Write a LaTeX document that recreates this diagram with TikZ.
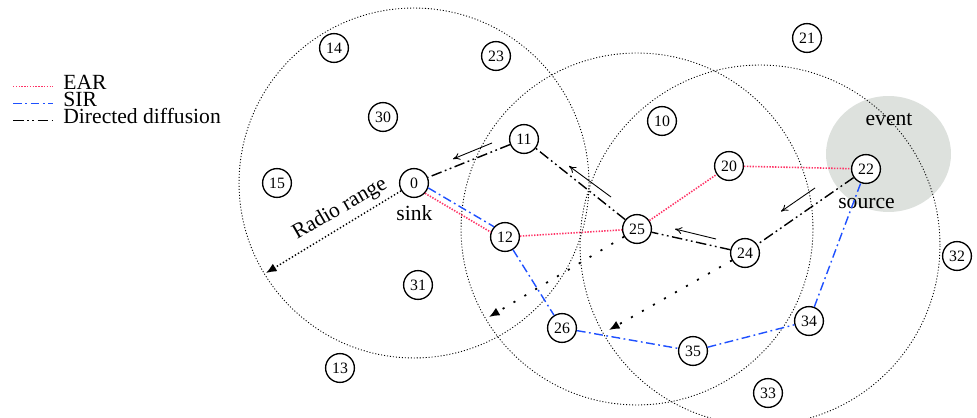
\documentclass[tikz,border=0pt]{standalone}
\usepackage{fontspec}
\setmainfont{Liberation Serif}
\usetikzlibrary{arrows.meta,shapes.geometric}
\definecolor{earc}{RGB}{255,51,102}
\definecolor{sirc}{RGB}{30,80,255}
\definecolor{evc}{RGB}{221,225,221}
\begin{document}
\begin{tikzpicture}[x=0.02cm,y=-0.02cm,
 nd/.style={circle,draw,line width=0.75pt,fill=white,minimum size=16.4pt,inner sep=0pt,font=\fontsize{9}{10}\selectfont},
 lbl/.style={font=\fontsize{12.3}{14}\selectfont,inner sep=0pt},
 rangec/.style={line width=0.5pt,dash pattern=on 0.6pt off 1.1pt},
 ear/.style={earc,line width=0.9pt,dash pattern=on 0.8pt off 0.8pt},
 sir/.style={sirc,line width=0.8pt,dash pattern=on 5pt off 2pt on 1pt off 2pt},
 dd/.style={black,line width=0.8pt,dash pattern=on 6pt off 2pt on 1pt off 2pt on 1pt off 2pt},
 flow/.style={line width=0.5pt,-{To[length=4pt,width=4pt]}},
 rangearrow/.style={line width=0.8pt,dash pattern=on 0.8pt off 1.2pt,-{Latex[length=6pt,width=5pt]}},
 sparse/.style={line width=1pt,dash pattern=on 1.2pt off 6pt,-{Latex[length=6pt,width=5pt]}}]
\useasboundingbox (0,0) rectangle (977,418);
% event area
\fill[evc] (888.5,154) ellipse [x radius=1.25cm, y radius=1.16cm];
% radio ranges
\coordinate (c1) at (414,183);
\coordinate (c2) at (637,229);
\coordinate (c3) at (760,245);
\draw[rangec] (c1) circle [radius=3.5cm];
\draw[rangec] (c2) circle [radius=3.52cm];
\draw[rangec] (c3) circle [radius=3.6cm];
% nodes
\node[nd] (n0) at (414,183) {0};
\node[nd] (n11) at (524,139) {11};
\node[nd] (n12) at (505,237) {12};
\node[nd] (n15) at (277,183) {15};
\node[nd] (n30) at (383,117) {30};
\node[nd] (n31) at (418,285) {31};
\node[nd] (n14) at (334,48) {14};
\node[nd] (n23) at (496,56) {23};
\node[nd] (n10) at (662,121) {10};
\node[nd] (n21) at (807,38) {21};
\node[nd] (n20) at (729,166) {20};
\node[nd] (n25) at (637,229) {25};
\node[nd] (n24) at (745,253) {24};
\node[nd] (n22) at (866,169) {22};
\node[nd] (n32) at (957,256) {32};
\node[nd] (n26) at (562,328) {26};
\node[nd] (n35) at (693,351) {35};
\node[nd] (n34) at (809,321) {34};
\node[nd] (n33) at (768,393) {33};
\node[nd] (n13) at (340,368) {13};
% labels
\node[lbl,anchor=base] (sink) at (414.5,221) {sink};
\node[lbl,anchor=base] (source) at (866.5,209) {source};
\node[lbl,anchor=base] (event) at (889,125.5) {event};
\node[lbl,rotate=30] (rr) at (340,209) {Radio range};
% EAR
\draw[ear] (n0.-43) -- (n12.161);
\draw[ear] (n12) -- (n25);
\draw[ear] (n25) -- (n20);
\draw[ear] (n20) -- (n22);
% SIR
\draw[sir] (n0.-19) -- (n12.137);
\draw[sir] (n12) -- (n26);
\draw[sir] (n26) -- (n35);
\draw[sir] (n35) -- (n34);
\draw[sir] (n34) -- (n22);
% Directed diffusion
\draw[dd] (n22) -- (n24);
\draw[dd] (n24) -- (n25);
\draw[dd] (n25) -- (n11);
\draw[dd] (n11) -- (n0);
% flow direction arrows
\coordinate (f1s) at (492,143); \coordinate (f1e) at (453,159);
\coordinate (f2s) at (611,197); \coordinate (f2e) at (569,166);
\coordinate (f3s) at (716,239); \coordinate (f3e) at (675,229);
\coordinate (f4s) at (815,188); \coordinate (f4e) at (781,211.5);
\draw[flow] (f1s) -- (f1e);
\draw[flow] (f2s) -- (f2e);
\draw[flow] (f3s) -- (f3e);
\draw[flow] (f4s) -- (f4e);
% radio range arrows
\coordinate (rre) at (266,273);
\coordinate (a25) at (489,317);
\coordinate (a24) at (609,330);
\draw[rangearrow] (n0) -- (rre);
\draw[sparse] (n25) -- (a25);
\draw[sparse] (n24) -- (a24);
% legend
\coordinate (l1a) at (13,86.5); \coordinate (l1b) at (53,86.5);
\coordinate (l2a) at (13,103.5); \coordinate (l2b) at (53,103.5);
\coordinate (l3a) at (13,120.5); \coordinate (l3b) at (53,120.5);
\draw[ear] (l1a) -- (l1b);
\draw[sir] (l2a) -- (l2b);
\draw[dd] (l3a) -- (l3b);
\node[lbl,anchor=base west] (t1) at (63,90) {EAR};
\node[lbl,anchor=base west] (t2) at (63,107) {SIR};
\node[lbl,anchor=base west] (t3) at (63,124) {Directed diffusion};
\end{tikzpicture}
\end{document}
